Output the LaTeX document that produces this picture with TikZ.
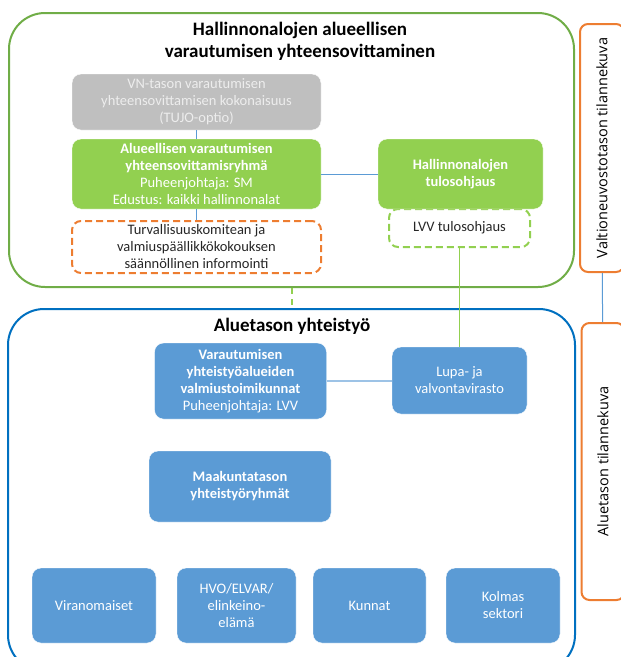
\documentclass[tikz,border=0pt]{standalone}
\usepackage{fontspec}
\setmainfont{Carlito}
\newfontfamily\sidefont{Open Sans}
\definecolor{boxgreen}{HTML}{92D050}
\definecolor{areagreen}{HTML}{70AD47}
\definecolor{boxblue}{HTML}{5B9BD5}
\definecolor{areablue}{HTML}{0070C0}
\definecolor{sideorange}{HTML}{ED7D31}
\definecolor{boxgray}{HTML}{BFBFBF}
\usetikzlibrary{arrows}

\begin{document}
\begin{tikzpicture}[x=1pt,y=-1pt,
	every node/.style={align=center,font=\fontsize{14.5}{17}\selectfont,inner sep=2pt},
	area/.style={draw,line width=2pt,rounded corners=36pt,inner sep=0pt},
	areatitle/.style={font=\bfseries\fontsize{19}{22}\selectfont},
	gbox/.style={fill=boxgreen,draw=white,rounded corners=9pt,text=white},
	bbox/.style={fill=boxblue,draw=white,rounded corners=9pt,text=white},
	dashbox/.style={draw,dashed,dash pattern=on 7pt off 4pt,line width=2pt,rounded corners=9pt,text=black!85},
	sidebox/.style={draw=sideorange,line width=2pt,rounded corners=8pt,rotate=90,font=\sidefont\fontsize{14.5}{16}\selectfont},
	link/.style={draw=boxblue,line width=1pt}]

\useasboundingbox (0,0) rectangle (621,657);

% the two areas
\node[area,draw=areagreen,minimum width=565pt,minimum height=274pt]   (hall) at (291.5,150)	{};
\node[area,draw=areablue,minimum width=567pt,minimum height=362pt]   (alue) at (291.5,490)	{};
\node[areatitle]   (halltitle) at (300,41)	{Hallinnonalojen alueellisen\\varautumisen yhteensovittaminen};
\node[areatitle]   (aluetitle) at (292,326)	{Aluetason yhteistyö};

% upper area
\node[fill=boxgray,draw=white,rounded corners=9pt,text=white!93!black,minimum width=249pt,minimum height=56pt]   (vn) at (196.5,102)
	{VN-tason varautumisen\\yhteensovittamisen kokonaisuus\\(TUJO-optio)};
\node[gbox,minimum width=249pt,minimum height=70pt]   (ryhma) at (196.5,174)
	{\textbf{Alueellisen varautumisen}\\\textbf{yhteensovittamisryhmä}\\Puheenjohtaja: SM\\Edustus: kaikki hallinnonalat};
\node[dashbox,draw=sideorange,minimum width=249pt,minimum height=52pt]   (info) at (196.5,247)
	{Turvallisuuskomitean ja\\valmiuspäällikkökokouksen\\säännöllinen informointi};
\node[dashbox,draw=boxgreen,minimum width=141pt,minimum height=38pt]   (lvv) at (459.5,228)	{LVV tulosohjaus};
\node[gbox,minimum width=165pt,minimum height=70pt]   (tulos) at (460.5,174)
	{\textbf{Hallinnonalojen}\\\textbf{tulosohjaus}};

% lower area
\node[bbox,minimum width=172pt,minimum height=76pt]   (valmius) at (240.5,381)
	{\textbf{Varautumisen}\\\textbf{yhteistyöalueiden}\\\textbf{valmiustoimikunnat}\\Puheenjohtaja: LVV};
\node[bbox,minimum width=135pt,minimum height=67pt]   (lupa) at (459.5,380.5)	{Lupa- ja\\valvontavirasto};
\node[bbox,minimum width=182pt,minimum height=71pt]   (maak) at (240,486.5)
	{\textbf{Maakuntatason}\\\textbf{yhteistyöryhmät}};
\node[bbox,minimum width=124pt,minimum height=75pt]   (vir) at (94,605.5)	{Viranomaiset};
\node[bbox,minimum width=119pt,minimum height=75pt]   (hvo) at (236.5,605.5)	{HVO/ELVAR/\\elinkeino-\\elämä};
\node[bbox,minimum width=113pt,minimum height=75pt]   (kunnat) at (369.5,605.5)	{Kunnat};
\node[bbox,minimum width=114pt,minimum height=75pt]   (kolmas) at (503,605.5)	{Kolmas\\sektori};

% side boxes
\node[sidebox,minimum width=248pt,minimum height=44pt]   (valt) at (602,148)	{Valtioneuvostotason tilannekuva};
\node[sidebox,minimum width=277pt,minimum height=43pt]   (alkuva) at (603,461.5)	{Aluetason tilannekuva};

	\path[link]	(vn)  edge	(ryhma)
				(ryhma)  edge	(info)
					edge	(tulos)
				(valt)  edge	(alkuva);
	\draw[draw=boxblue!60,line width=1.6pt]	(valmius.east) -- (valmius.east -| lupa.west);
	\draw[draw=boxgreen,line width=1pt]	(lvv) -- (lupa);
	\draw[draw=boxgreen,line width=2pt,dash pattern=on 6pt off 5pt]	(hall) -- (alue);

\end{tikzpicture}
\end{document}
